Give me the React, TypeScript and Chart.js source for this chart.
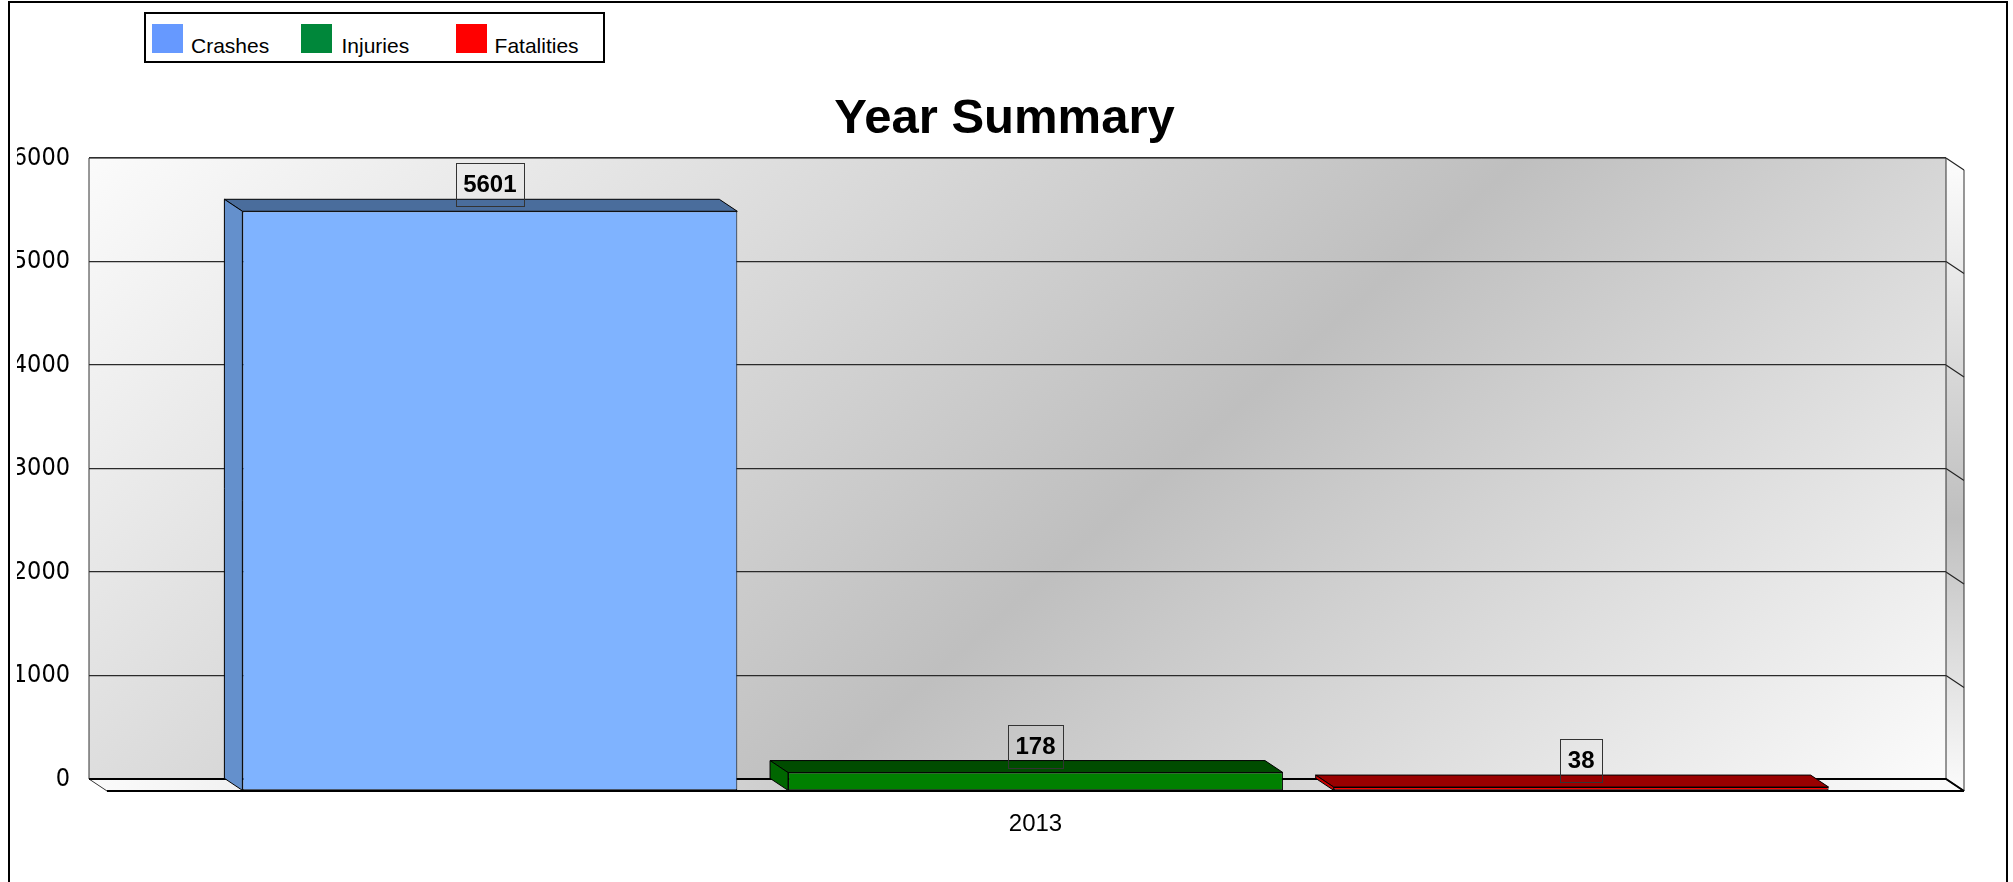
import React, { useEffect, useRef } from 'react';
import { Chart, registerables } from 'chart.js';

Chart.register(...registerables);

// ---- data ----
const categories = ['2013'];
const seriesNames = ['Crashes', 'Injuries', 'Fatalities'];
const crashes = [5601];
const injuries = [178];
const fatalities = [38];
const yMin = 0;
const yMax = 6000;
const yStep = 1000;
const titleText = 'Year Summary';

// ---- styles ----
const frontColors = ['#7fb3ff', '#008000', '#ff0000'];
const sideColors = ['#6490cc', '#006600', '#cc0000'];
const topColors = ['#4a6d9c', '#004c00', '#990000'];
const legendColors = ['#6699ff', '#00873a', '#ff0000'];
const DX = 18;
const DY = 12;
const CANVAS_LEFT = 17;
const CANVAS_W = 1975;
const CANVAS_H = 882;

const threeD = {
  id: 'threeD',
  beforeDraw(chart: any) {
    const { ctx, chartArea } = chart;
    const { left: l, right: r, top: t, bottom: b } = chartArea;
    ctx.save();
    // back wall gradient
    const dx = 0.66, dy = 0.75;
    const len = (r - l) * dx + (b - t) * dy;
    const g = ctx.createLinearGradient(l, t, l + dx * len, t + dy * len);
    g.addColorStop(0, '#fbfbfb');
    g.addColorStop(0.56, '#bfbfbf');
    g.addColorStop(1, '#fbfbfb');
    ctx.fillStyle = g;
    ctx.fillRect(l, t, r - l, b - t);
    // side wall
    const gs = ctx.createLinearGradient(0, t, 0, b + DY);
    gs.addColorStop(0, '#fdfdfd');
    gs.addColorStop(0.57, '#bfbfbf');
    gs.addColorStop(1, '#fbfbfb');
    ctx.fillStyle = gs;
    ctx.beginPath();
    ctx.moveTo(r, t);
    ctx.lineTo(r + DX, t + DY);
    ctx.lineTo(r + DX, b + DY);
    ctx.lineTo(r, b);
    ctx.closePath();
    ctx.fill();
    // floor
    const gf = ctx.createLinearGradient(l, 0, r + DX, 0);
    gf.addColorStop(0, '#fbfbfb');
    gf.addColorStop(0.45, '#c4c4c4');
    gf.addColorStop(1, '#fbfbfb');
    ctx.fillStyle = gf;
    ctx.beginPath();
    ctx.moveTo(l, b);
    ctx.lineTo(r, b);
    ctx.lineTo(r + DX, b + DY);
    ctx.lineTo(l + DX, b + DY);
    ctx.closePath();
    ctx.fill();
    ctx.restore();
  },
  beforeDatasetsDraw(chart: any) {
    const { ctx, chartArea, scales } = chart;
    const { left: l, right: r, top: t, bottom: b } = chartArea;
    ctx.save();
    // side wall grid diagonals
    ctx.strokeStyle = '#222';
    ctx.lineWidth = 1.2;
    scales.y.ticks.forEach((tk: any) => {
      const y = scales.y.getPixelForValue(tk.value);
      ctx.beginPath();
      ctx.moveTo(r, y);
      ctx.lineTo(r + DX, y + DY);
      ctx.stroke();
    });
    // wall outlines
    ctx.lineWidth = 1;
    ctx.strokeStyle = '#333';
    ctx.beginPath();
    ctx.moveTo(l, b);
    ctx.lineTo(l, t);
    ctx.lineTo(r, t);
    ctx.lineTo(r, b);
    ctx.moveTo(r + DX, t + DY);
    ctx.lineTo(r + DX, b + DY);
    ctx.moveTo(l, b);
    ctx.lineTo(l + DX, b + DY);
    ctx.stroke();
    ctx.strokeStyle = '#000';
    ctx.lineWidth = 2;
    ctx.beginPath();
    ctx.moveTo(l, b);
    ctx.lineTo(r, b);
    ctx.lineTo(r + DX, b + DY);
    ctx.moveTo(l + DX, b + DY);
    ctx.lineTo(r + DX, b + DY);
    ctx.stroke();
    // bar depth faces
    ctx.lineWidth = 1;
    ctx.strokeStyle = '#000';
    chart.data.datasets.forEach((ds: any, i: number) => {
      const meta = chart.getDatasetMeta(i);
      meta.data.forEach((el: any) => {
        const { x, y, base, width } = el.getProps(['x', 'y', 'base', 'width'], true);
        const xL = x - width / 2 + DX;
        const xR = x + width / 2 + DX;
        const yT = y + DY;
        const yB = base + DY;
        ctx.fillStyle = topColors[i];
        ctx.beginPath();
        ctx.moveTo(xL, yT);
        ctx.lineTo(xR, yT);
        ctx.lineTo(xR - DX, yT - DY);
        ctx.lineTo(xL - DX, yT - DY);
        ctx.closePath();
        ctx.fill();
        ctx.stroke();
        ctx.fillStyle = sideColors[i];
        ctx.beginPath();
        ctx.moveTo(xL, yT);
        ctx.lineTo(xL, yB);
        ctx.lineTo(xL - DX, yB - DY);
        ctx.lineTo(xL - DX, yT - DY);
        ctx.closePath();
        ctx.fill();
        ctx.stroke();
      });
    });
    ctx.restore();
    ctx.save();
    ctx.translate(DX, DY);
  },
  afterDatasetsDraw(chart: any) {
    const { ctx } = chart;
    ctx.restore();
    ctx.save();
    ctx.font = 'bold 24px "Liberation Sans", Arial, sans-serif';
    ctx.textAlign = 'center';
    ctx.textBaseline = 'middle';
    chart.data.datasets.forEach((ds: any, i: number) => {
      const meta = chart.getDatasetMeta(i);
      meta.data.forEach((el: any, j: number) => {
        const { x, y } = el.getProps(['x', 'y'], true);
        const txt = String(ds.data[j]);
        const w = ctx.measureText(txt).width + 15;
        const cx = x + DX;
        const bottom = y + DY - 5;
        const h = 43;
        ctx.strokeStyle = '#333';
        ctx.lineWidth = 1;
        ctx.strokeRect(Math.round(cx - w / 2) + 0.5, Math.round(bottom - h) + 0.5, Math.round(w), h);
        ctx.fillStyle = '#000';
        ctx.fillText(txt, cx, bottom - h / 2 + 1);
      });
    });
    ctx.restore();
  },
};

export default function App() {
  const ref = useRef<HTMLCanvasElement>(null);
  useEffect(() => {
    if (!ref.current) return;
    const seriesValues = [crashes, injuries, fatalities];
    const chart = new Chart(ref.current, {
      type: 'bar',
      data: {
        labels: categories,
        datasets: seriesNames.map((name, i) => ({
          label: name,
          data: seriesValues[i],
          backgroundColor: frontColors[i],
          borderColor: '#000',
          borderWidth: 1,
          borderSkipped: false,
          clip: false,
          categoryPercentage: 0.8815,
          barPercentage: 0.907,
        })),
      },
      options: {
        responsive: false,
        animation: false,
        devicePixelRatio: 1,
        layout: { padding: 0 },
        plugins: {
          legend: { display: false },
          tooltip: { enabled: false },
          title: {
            display: true,
            text: titleText,
            color: '#000',
            font: { family: '"Liberation Sans", Arial, sans-serif', size: 49, weight: 'bold' },
            padding: { top: 90.2, bottom: 9 },
          },
        },
        scales: {
          x: {
            grid: { display: false, drawTicks: false },
            border: { display: false },
            ticks: {
              color: '#000',
              font: { family: '"Liberation Sans", Arial, sans-serif', size: 24 },
              padding: 31,
              labelOffset: DX,
            },
            afterFit: (s: any) => { s.height = 103; },
          },
          y: {
            min: yMin,
            max: yMax,
            grid: { color: '#2a2a2a', lineWidth: 1.3, drawTicks: false },
            border: { display: false },
            ticks: {
              stepSize: yStep,
              color: '#000',
              font: { family: '"DejaVu Sans Condensed", "DejaVu Sans", sans-serif', size: 25 },
              padding: 19,
              callback: (v: any) => String(v),
            },
            afterFit: (s: any) => { s.width = 72; },
          },
          yRight: {
            type: 'linear',
            position: 'right',
            display: true,
            grid: { display: false, drawTicks: false },
            border: { display: false },
            ticks: { display: false },
            afterFit: (s: any) => { s.width = 46; },
          },
        },
      },
      plugins: [threeD],
    } as any);
    return () => chart.destroy();
  }, []);

  const legendSwatchX = [152, 301, 456];
  const legendTextX = [191, 341.5, 494.6];

  return (
    <>
      <div
        style={{
          position: 'absolute', left: 8, top: 1, width: 2000, height: 881,
          borderTop: '2px solid #000', borderLeft: '2px solid #000', borderRight: '2px solid #000',
          borderBottom: 'none', boxSizing: 'border-box',
        }}
      />
      <canvas
        ref={ref}
        width={CANVAS_W}
        height={CANVAS_H}
        style={{ position: 'absolute', left: CANVAS_LEFT, top: 0, width: CANVAS_W, height: CANVAS_H }}
      />
      <div
        style={{
          position: 'absolute', left: 144, top: 12, width: 461, height: 51,
          border: '2px solid #000', boxSizing: 'border-box', background: '#fff',
        }}
      >
        {seriesNames.map((name, i) => (
          <React.Fragment key={name}>
            <div
              style={{
                position: 'absolute', left: legendSwatchX[i] - 146, top: 24 - 14,
                width: 31, height: 29, background: legendColors[i],
              }}
            />
            <div
              style={{
                position: 'absolute', left: legendTextX[i] - 146, top: 35 - 14,
                fontFamily: '"Liberation Sans", Arial, sans-serif', fontSize: 21, lineHeight: '21px',
                color: '#000', whiteSpace: 'nowrap',
              }}
            >
              {name}
            </div>
          </React.Fragment>
        ))}
      </div>
    </>
  );
}
